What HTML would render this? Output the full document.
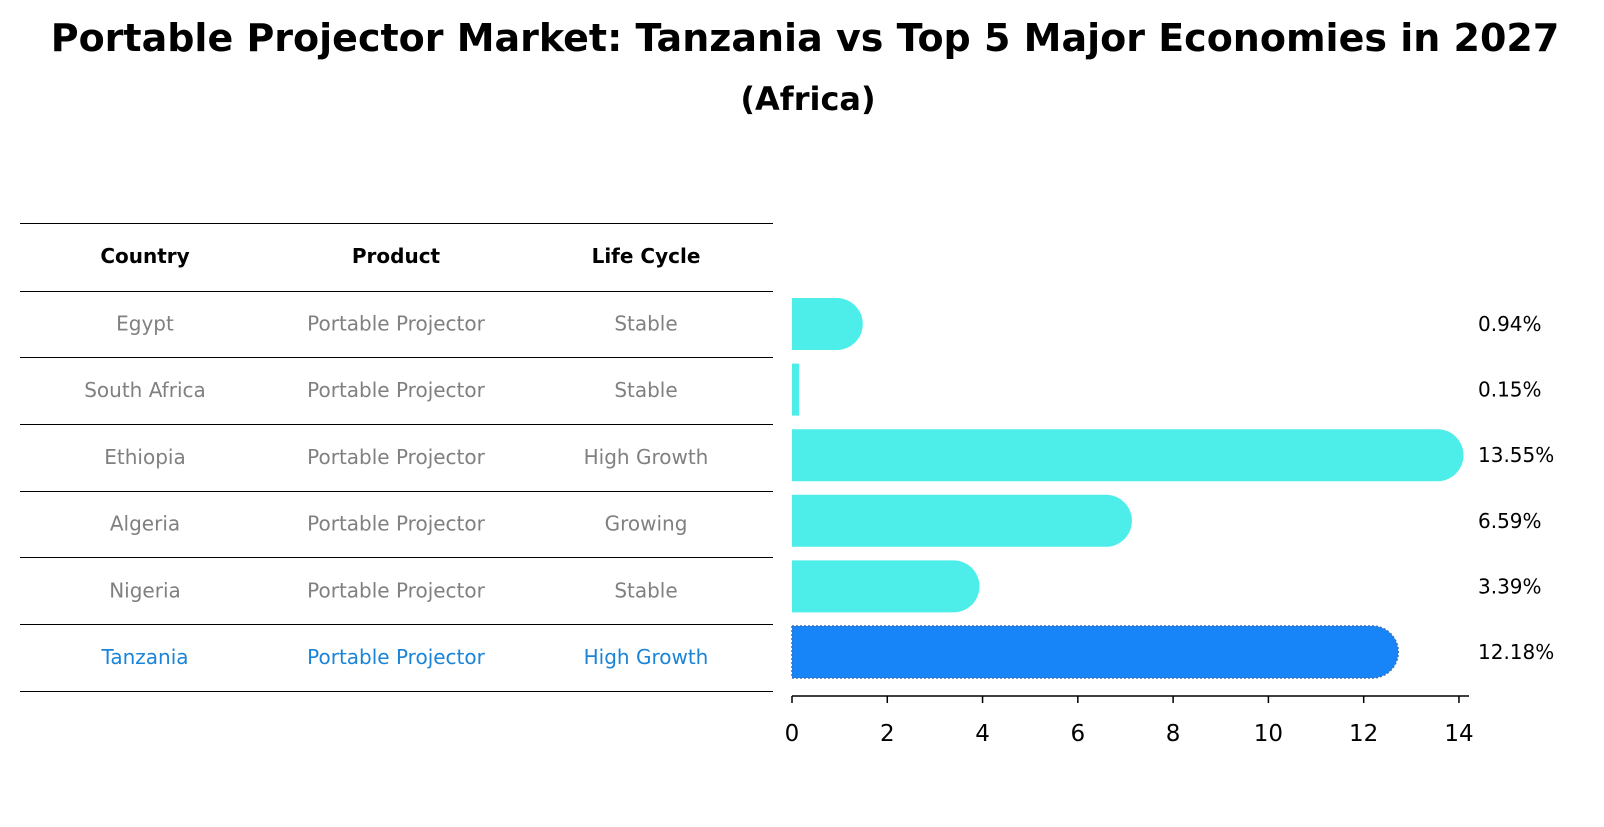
<!DOCTYPE html>
<html><head><meta charset="utf-8"><style>
body{margin:0;background:#fff;font-family:"DejaVu Sans","Liberation Sans",sans-serif;}
</style></head><body>
<svg id="chart" width="1604" height="823" xmlns="http://www.w3.org/2000/svg" font-family="DejaVu Sans, Liberation Sans, sans-serif">
<text x="805" y="51" text-anchor="middle" font-size="38" font-weight="bold">Portable Projector Market: Tanzania vs Top 5 Major Economies in 2027</text>
<text x="808" y="110" text-anchor="middle" font-size="32" font-weight="bold">(Africa)</text>
<g id="table"></g>
<g id="bars"></g>
<g id="axis"></g>
</svg>
<script>
const countries=["Egypt","South Africa","Ethiopia","Algeria","Nigeria","Tanzania"];
const products=["Portable Projector","Portable Projector","Portable Projector","Portable Projector","Portable Projector","Portable Projector"];
const lifecycles=["Stable","Stable","High Growth","Growing","Stable","High Growth"];
const values=[0.94,0.15,13.55,6.59,3.39,12.18];
const valueLabels=["0.94%","0.15%","13.55%","6.59%","3.39%","12.18%"];
const ticks=[0,2,4,6,8,10,12,14];
const NS="http://www.w3.org/2000/svg";
function mk(t,a,p){const e=document.createElementNS(NS,t);for(const k in a)e.setAttribute(k,a[k]);p.appendChild(e);return e;}
const x0=792,pxPer=47.64;
const xs=v=>x0+v*pxPer;
const rowTop=290.5;
const yc=i=>324+i*65.6;
const tbl=document.getElementById('table');
const cols=[145,396,646];
const headers=["Country","Product","Life Cycle"];
const ln=mk('line',{x1:20,x2:773,y1:223.5,y2:223.5,stroke:'#000','stroke-width':1},tbl);

headers.forEach((h,j)=>{const t=mk('text',{x:cols[j],y:263,'text-anchor':'middle','font-size':20,'font-weight':'bold'},tbl);t.textContent=h;
});
for(let i=0;i<=countries.length;i++){const y=Math.round(rowTop+i*66.7)+0.5;
const l=mk('line',{x1:20,x2:773,y1:y,y2:y,stroke:'#000','stroke-width':1},tbl);
}
countries.forEach((c,i)=>{const col=i===countries.length-1?'#1a84d8':'#808080';
[c,products[i],lifecycles[i]].forEach((s,j)=>{const t=mk('text',{x:cols[j],y:rowTop+i*66.7+40,'text-anchor':'middle','font-size':20,fill:col},tbl);t.textContent=s;
});});
const bg=document.getElementById('bars');const bh=52;
values.forEach((v,i)=>{const last=i===values.length-1;const fill=last?'#1785f7':'#4deeea';
const y=yc(i)-bh/2;const w=xs(v)-x0;const r2=bh/2;
let d;
if(v>=0.5){d=`M${x0},${y} H${xs(v)} A${r2},${r2} 0 0 1 ${xs(v)},${y+bh} H${x0} Z`;}
else{d=`M${x0},${y} H${xs(v)} V${y+bh} H${x0} Z`;}
const p=mk('path',{d:d,fill:fill},bg);
if(last){p.setAttribute('stroke','#3a6fc0');p.setAttribute('stroke-width','1.5');p.setAttribute('stroke-dasharray','2,2');}

const t=mk('text',{x:1478,y:yc(i)+7,'font-size':20},bg);t.textContent=valueLabels[i];
});
const ax=document.getElementById('axis');
const al=mk('line',{x1:x0,x2:1469,y1:696,y2:696,stroke:'#000','stroke-width':1.5},ax);

ticks.forEach(v=>{const tk=mk('line',{x1:xs(v),x2:xs(v),y1:696,y2:703,stroke:'#000','stroke-width':1.5},ax);

const t=mk('text',{x:xs(v),y:741,'text-anchor':'middle','font-size':23},ax);t.textContent=v;
});
</script>
</body></html>
